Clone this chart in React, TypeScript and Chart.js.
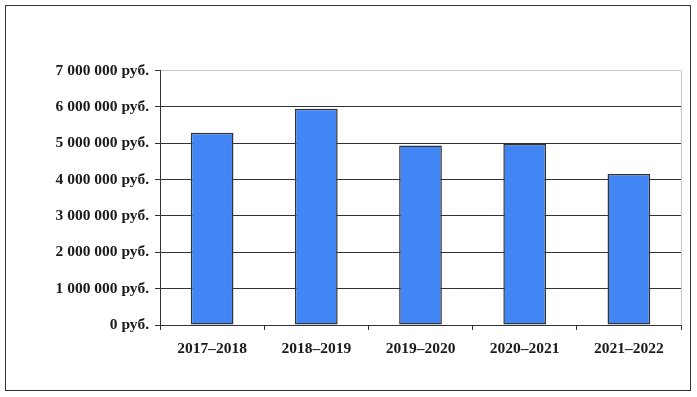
import React, { useEffect, useRef } from "react";
import { Chart, registerables } from "chart.js";

Chart.register(...registerables);

const categories = ["2017–2018", "2018–2019", "2019–2020", "2020–2021", "2021–2022"];
const amounts = [5290000, 5950000, 4940000, 4980000, 4150000];
const yMax = 7000000;
const yStep = 1000000;

function formatRub(v: number): string {
  const s = Math.round(v).toString().replace(/\B(?=(\d{3})+(?!\d))/g, " ");
  return s + " руб.";
}

const framePlugin = {
  id: "frame",
  beforeDraw(chart: any) {
    const ctx = chart.ctx;
    ctx.save();
    ctx.fillStyle = "#ffffff";
    ctx.fillRect(0, 0, chart.width, chart.height);
    ctx.strokeStyle = "#333333";
    ctx.lineWidth = 1;
    ctx.strokeRect(5.5, 5.5, 685, 385);
    ctx.restore();
  },
  afterDatasetsDraw(chart: any) {
    const { ctx, chartArea } = chart;
    ctx.save();
    ctx.strokeStyle = "#c8c8c8";
    ctx.lineWidth = 1;
    ctx.beginPath();
    ctx.moveTo(Math.round(chartArea.right) + 0.5, chartArea.top);
    ctx.lineTo(Math.round(chartArea.right) + 0.5, chartArea.bottom);
    ctx.stroke();
    ctx.restore();
  },
};

export default function App() {
  const ref = useRef<HTMLCanvasElement | null>(null);

  useEffect(() => {
    document.body.style.margin = "0";
    const canvas = ref.current;
    if (!canvas) return;
    const font = { family: "'Liberation Serif', 'Times New Roman', serif", size: 15.5, weight: "bold" as const };
    const chart = new Chart(canvas, {
      type: "bar",
      data: {
        labels: categories,
        datasets: [
          {
            data: amounts,
            backgroundColor: "#4285F4",
            borderColor: "#333333",
            borderWidth: 1.5,
            borderSkipped: false,
            barPercentage: 0.41,
            categoryPercentage: 1,
          },
        ],
      },
      options: {
        responsive: false,
        animation: false,
        layout: { padding: { left: 0, top: 70.5, right: 16, bottom: 0 } },
        plugins: { legend: { display: false }, tooltip: { enabled: false } },
        scales: {
          x: {
            offset: true,
            grid: {
              offset: true,
              drawOnChartArea: false,
              drawTicks: true,
              tickLength: 5,
              tickColor: "#333333",
            },
            border: { color: "#333333", width: 1 },
            ticks: { color: "#1a1a1a", font, padding: 10, maxRotation: 0 },
            afterFit(scale: any) {
              scale.height = 72;
            },
          },
          y: {
            min: 0,
            max: yMax,
            ticks: {
              stepSize: yStep,
              color: "#1a1a1a",
              font,
              padding: 6,
              callback: (v: any) => formatRub(Number(v)),
            },
            grid: {
              color: (c: any) => (c.tick && c.tick.value === yMax ? "#c8c8c8" : "#333333"),
              tickColor: "#333333",
              tickLength: 5,
            },
            border: { color: "#333333", width: 1 },
            afterFit(scale: any) {
              scale.width = 160;
            },
          },
        },
      },
      plugins: [framePlugin],
    });
    return () => chart.destroy();
  }, []);

  return (
    <div style={{ position: "absolute", left: 0, top: 0, width: 697, height: 397 }}>
      <canvas ref={ref} width={697} height={397} style={{ width: 697, height: 397 }} />
    </div>
  );
}
